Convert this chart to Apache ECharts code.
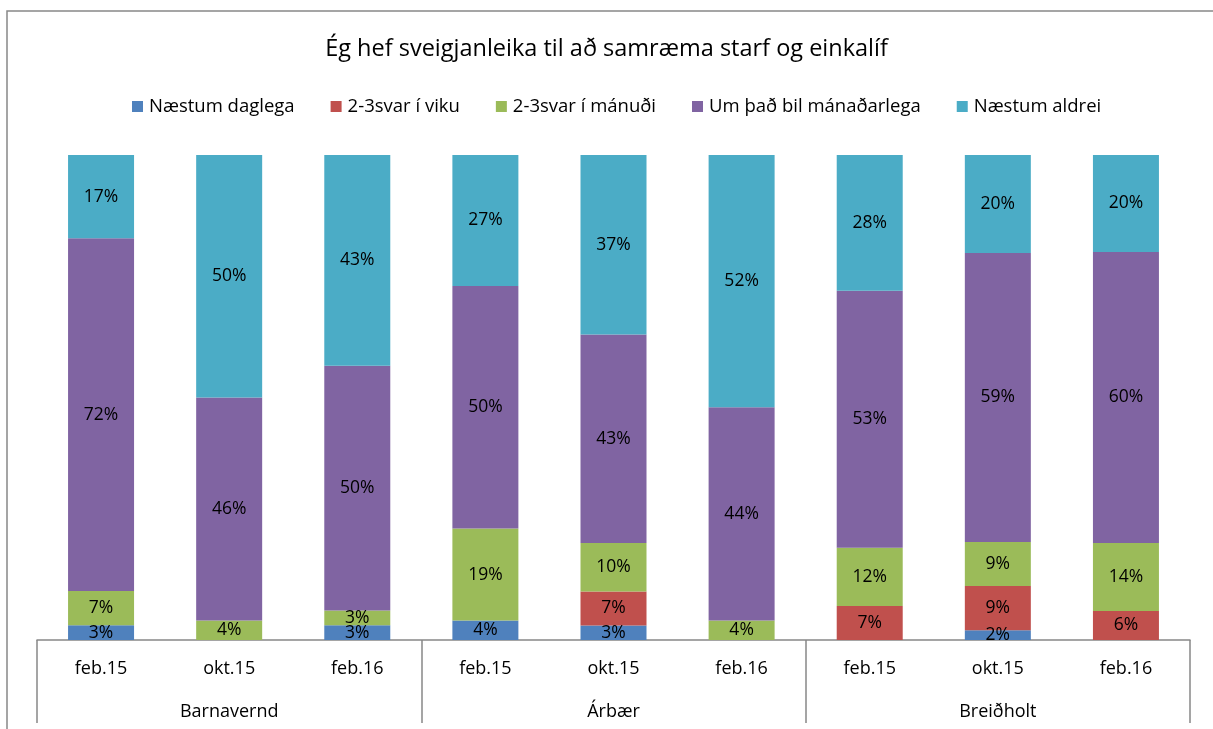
<!DOCTYPE html>
<html>
<head>
<meta charset="utf-8">
<script src="https://cdn.jsdelivr.net/npm/echarts@6/dist/echarts.min.js"></script>
<style>
  html, body { margin: 0; padding: 0; background: #fff; }
  #chart { width: 1213px; height: 729px; }
</style>
</head>
<body>
<div id="chart"></div>
<script>
// Survey periods per unit and the units they belong to
const periods = ['feb.15', 'okt.15', 'feb.16', 'feb.15', 'okt.15', 'feb.16', 'feb.15', 'okt.15', 'feb.16'];
const units = ['Barnavernd', 'Árbær', 'Breiðholt'];

// Answer shares in percent, one value per bar
const naestumDaglega   = [3, 0, 3, 4, 3, 0, 0, 2, 0];
const tvisvarIViku     = [0, 0, 0, 0, 7, 0, 7, 9, 6];
const tvisvarIManudi   = [7, 4, 3, 19, 10, 4, 12, 9, 14];
const manadarlega      = [72, 46, 50, 50, 43, 44, 53, 59, 60];
const naestumAldrei    = [17, 50, 43, 27, 37, 52, 28, 20, 20];

const seriesNames = ['Næstum daglega', '2-3svar í viku', '2-3svar í mánuði', 'Um það bil mánaðarlega', 'Næstum aldrei'];
const seriesValues = [naestumDaglega, tvisvarIViku, tvisvarIManudi, manadarlega, naestumAldrei];
const colors = ['#4F81BD', '#C0504D', '#9BBB59', '#8064A2', '#4BACC6'];

// 100% stacked: each bar is scaled to its own total
const totals = periods.map((_, i) => seriesValues.reduce((s, arr) => s + arr[i], 0));

const FONT = 'Open Sans';

const series = seriesNames.map((name, k) => ({
  name: name,
  type: 'bar',
  stack: 'total',
  barWidth: 66,
  itemStyle: { color: colors[k] },
  data: seriesValues[k].map((v, i) => v / totals[i] * 100),
  label: {
    show: true,
    position: 'inside',
    color: '#000',
    fontFamily: FONT,
    fontSize: 17.5,
    formatter: p => {
      const raw = seriesValues[k][p.dataIndex];
      return raw > 0 ? raw + '%' : '';
    }
  }
}));

const chart = echarts.init(document.getElementById('chart'));
chart.setOption({
  animation: false,
  title: {
    text: 'Ég hef sveigjanleika til að samræma starf og einkalíf',
    left: 'center',
    top: 32,
    textStyle: { fontFamily: FONT, fontSize: 23.5, fontWeight: 'normal', color: '#000' }
  },
  legend: {
    top: 92,
    left: 127,
    icon: 'rect',
    itemWidth: 11,
    itemHeight: 11,
    itemGap: 36,
    textStyle: { fontFamily: FONT, fontSize: 18.5, color: '#000', padding: [0, 0, 0, 1] },
    data: seriesNames
  },
  grid: { left: 37, right: 23, top: 155, bottom: 89, containLabel: false },
  xAxis: [
    {
      type: 'category',
      data: periods,
      position: 'bottom',
      axisLine: { show: true, lineStyle: { color: '#888', width: 1.5 } },
      axisTick: { show: false },
      axisLabel: { interval: 0, margin: 20, fontFamily: FONT, fontSize: 18, color: '#000' }
    },
    {
      type: 'category',
      data: units,
      position: 'bottom',
      axisLine: { show: false },
      axisTick: { show: true, interval: 0, length: 83, lineStyle: { color: '#888', width: 1.5 } },
      axisLabel: { interval: 0, margin: 63, fontFamily: FONT, fontSize: 18, color: '#000' }
    }
  ],
  yAxis: { type: 'value', min: 0, max: 100, show: false, splitLine: { show: false } },
  graphic: [{
    type: 'rect',
    shape: { x: 7, y: 11, width: 1300, height: 800 },
    style: { fill: 'none', stroke: '#888', lineWidth: 1.5 },
    silent: true,
    z: 100
  }],
  series: series
});
</script>
</body>
</html>
